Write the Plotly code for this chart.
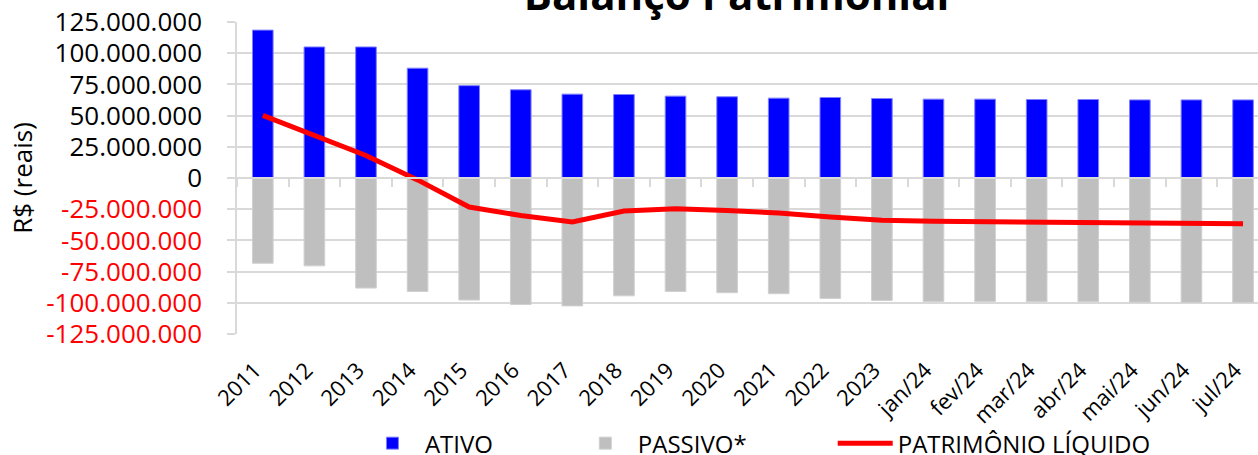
import plotly.graph_objects as go

categories = ['2011', '2012', '2013', '2014', '2015', '2016', '2017', '2018', '2019', '2020',
              '2021', '2022', '2023', 'jan/24', 'fev/24', 'mar/24', 'abr/24', 'mai/24', 'jun/24', 'jul/24']

ativo = [118.5, 105.0, 105.0, 88.0, 74.0, 70.7, 67.2, 66.9, 65.6, 65.1,
         64.0, 64.5, 63.7, 63.2, 63.2, 62.9, 62.9, 62.6, 62.6, 62.6]
passivo = [-68.3, -70.4, -88.2, -90.9, -97.8, -101.3, -102.5, -94.4, -90.9, -91.9,
           -92.7, -96.5, -98.1, -98.9, -98.9, -99.2, -99.2, -99.5, -99.7, -99.7]
patrimonio = [50.2, 34.6, 18.0, -1.5, -23.3, -30.0, -35.3, -26.5, -24.7, -26.0,
              -28.0, -31.2, -33.9, -34.7, -35.0, -35.2, -35.5, -35.7, -35.9, -36.6]

series_names = ["ATIVO", "PASSIVO*", "PATRIMÔNIO LÍQUIDO"]

scale = 1_000_000
ativo_r = [v * scale for v in ativo]
passivo_r = [v * scale for v in passivo]
pl_r = [v * scale for v in patrimonio]

ytick_vals = [125, 100, 75, 50, 25, 0, -25, -50, -75, -100, -125]


def fmt(v):
    s = f"{abs(int(v * scale)):,}".replace(",", ".")
    if v < 0:
        return f"<span style='color:#FF0000'>-{s}</span>"
    return s


ytick_text = [fmt(v) for v in ytick_vals]

FONT = "Open Sans"
GRID = "#d9d9d9"
NBSP = "\u00a0"  # spacing between legend entries

fig = go.Figure()
fig.add_trace(go.Bar(x=categories, y=ativo_r, name=series_names[0] + NBSP * 12, width=0.4,
                     marker=dict(color="#0000FF", line=dict(color="#8080FF", width=1))))
fig.add_trace(go.Bar(x=categories, y=passivo_r, name=series_names[1] + NBSP * 13, width=0.4,
                     marker=dict(color="#BFBFBF", line=dict(color="#D0D0D0", width=1))))
fig.add_trace(go.Scatter(x=categories, y=pl_r, name=series_names[2], mode="lines",
                         xaxis="x2",
                         line=dict(color="#FF0000", width=5)))

xr = [-0.5, 19.29]
fig.update_layout(
    width=1258, height=455,
    margin=dict(l=237, r=0, t=22, b=121, autoexpand=False),
    paper_bgcolor="white", plot_bgcolor="white",
    barmode="relative",
    font=dict(family=FONT, color="#000000"),
    title=dict(text="Balanço Patrimonial", font=dict(family=FONT, size=42, weight=700, color="#000"),
               xref="container", x=0.5855, xanchor="center",
               yref="container", y=0.979, yanchor="bottom"),
    xaxis=dict(type="category", range=xr, showgrid=False, showline=False, ticks="",
               tickangle=-45, tickfont=dict(size=22, family=FONT, color="#000"),
               ticklabelstandoff=18, ticklabelshift=-8, zeroline=False, automargin=False),
    xaxis2=dict(type="category", range=xr, overlaying="x", anchor="free", position=0.5,
                side="bottom", showgrid=False, showline=True, linecolor=GRID, linewidth=1.5,
                ticks="outside", tickson="boundaries", ticklen=8, tickcolor=GRID, tickwidth=1.5,
                showticklabels=False, zeroline=False, automargin=False),
    yaxis=dict(range=[-125 * scale, 125 * scale], tickmode="array",
               tickvals=[v * scale for v in ytick_vals], ticktext=ytick_text,
               tickfont=dict(size=26, family=FONT, color="#000"),
               showgrid=True, gridcolor=GRID, gridwidth=1.5,
               showline=True, linecolor=GRID, linewidth=1.5,
               ticks="outside", ticklen=8, tickcolor=GRID, tickwidth=1.5,
               ticklabelstandoff=20, zeroline=False, automargin=False,
               title=dict(text="R$ (reais)", font=dict(size=26, family=FONT, color="#000"), standoff=6)),
    legend=dict(orientation="h", x=0.1204, xanchor="left", y=-0.279, yanchor="top",
                font=dict(size=24, family=FONT, color="#000"),
                itemwidth=55, bgcolor="rgba(0,0,0,0)", traceorder="normal"),
    showlegend=True,
)

fig.write_html("out.html", config={"displayModeBar": False},
               post_script="document.body.style.margin='0px';document.body.style.overflow='hidden';")
